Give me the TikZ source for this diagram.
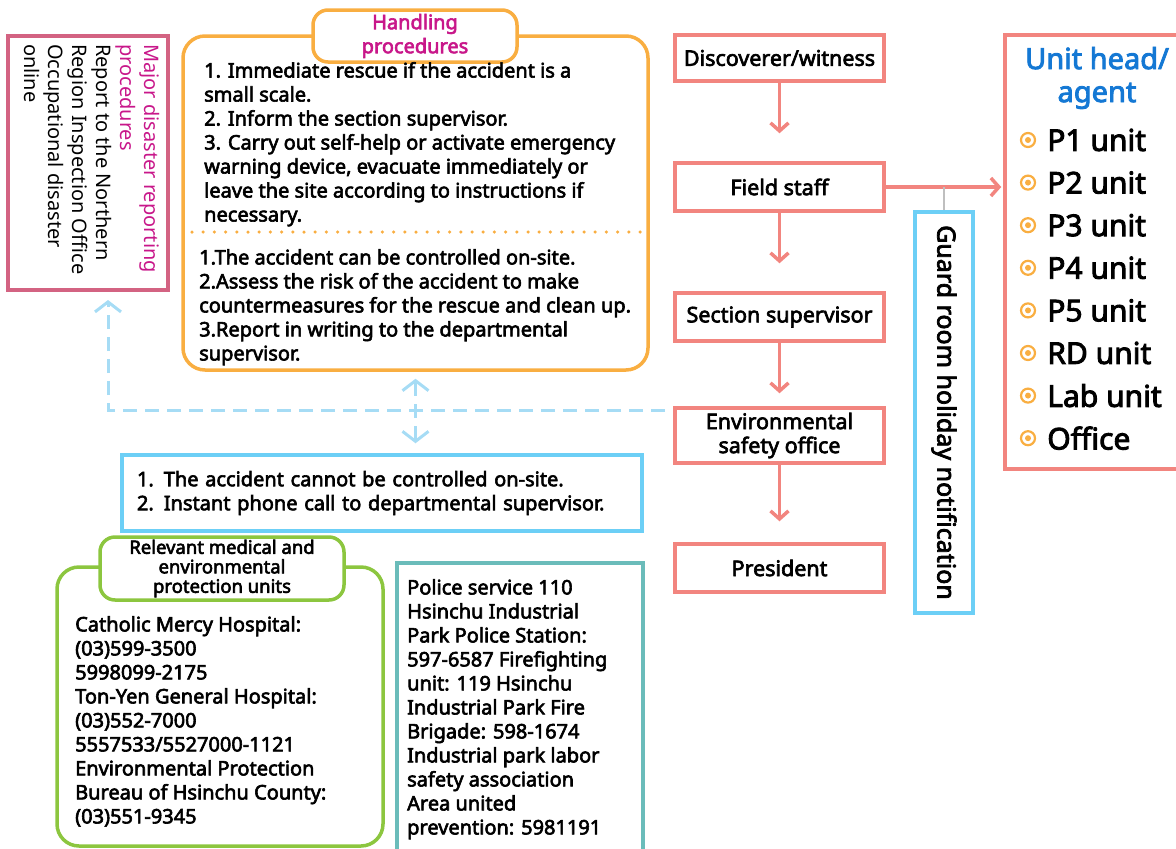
\documentclass[tikz,border=0pt]{standalone}
\usepackage{fontspec}
\setmainfont{Noto Sans}
\newfontfamily\medfont{Noto Sans}[FakeBold=3]
\usepackage{tikz}
\usetikzlibrary{arrows.meta,positioning,calc}

\definecolor{flowred}{HTML}{F2857F}
\definecolor{majpink}{HTML}{D36382}
\definecolor{majmag}{HTML}{C8178A}
\definecolor{handorange}{HTML}{F9AE41}
\definecolor{dashblue}{HTML}{A6DCF5}
\definecolor{boxblue}{HTML}{6CCFF6}
\definecolor{medgreen}{HTML}{8CC63F}
\definecolor{polteal}{HTML}{6BBCBA}
\definecolor{unitblue}{HTML}{1478D4}

\begin{document}
\begin{tikzpicture}[
  x=1pt, y=-1pt,
  every node/.style={inner sep=0pt, font=\medfont\fontsize{20}{24}\selectfont},
  flowbox/.style={draw=flowred, line width=3.5pt, minimum width=209pt, minimum height=48pt, align=center,
    font=\medfont\fontsize{21.5}{24}\selectfont},
  flowarr/.style={draw=flowred, line width=3.5pt, -{Straight Barb[length=8pt,width=18pt]}},
  dasharr/.style={draw=dashblue, line width=3pt, dash pattern=on 14pt off 8pt, -{Straight Barb[length=10pt,width=26pt]}},
  tab/.style={draw, fill=white, line width=3.5pt, rounded corners=15pt, align=center},
  bullet/.style={circle, draw=handorange, line width=2.2pt, minimum size=14pt,
    path picture={\fill[handorange] (path picture bounding box.center) circle (3pt);}},
  unittext/.style={font=\medfont\fontsize{30}{33}\selectfont}
]
\useasboundingbox (0,0) rectangle (1176,849);

% major disaster reporting
\node[draw=majpink, line width=3.5pt, minimum width=160pt, minimum height=254pt] (majbox) at (88,163) {};
\node[rotate=-90, anchor=north west, align=left, font=\fontsize{20}{24}\selectfont] (majtext) at (160,44)
  {\textcolor{majmag}{Major disaster reporting}\\\textcolor{majmag}{procedures}\\Report to the Northern\\Region Inspection Office\\Occupational disaster\\online};

% handling procedures
\node[draw=handorange, line width=3.5pt, rounded corners=22pt, minimum width=465pt, minimum height=334pt] (handbox) at (415.5,203) {};
\node[tab, draw=handorange, minimum width=204pt, minimum height=52pt, text=majmag] (handtab) at (415,36) {Handling\\procedures};
\node[anchor=north west, align=left] (handtop) at (204,62)
  {1. Immediate rescue if the accident is a\\small scale.\\2. Inform the section supervisor.\\3. Carry out self-help or activate emergency\\warning device, evacuate immediately or\\leave the site according to instructions if\\necessary.};
\coordinate (sepL) at (192,232);
\coordinate (sepR) at (640,232);
\draw[handorange, line width=3.5pt, line cap=round, dash pattern=on 0pt off 11.2pt] (sepL) -- (sepR);
\node[anchor=north west, align=left] (handbot) at (199,249)
  {1.The accident can be controlled on-site.\\2.Assess the risk of the accident to make\\countermeasures for the rescue and clean up.\\3.Report in writing to the departmental\\supervisor.};

% cannot be controlled
\node[draw=boxblue, line width=3.5pt, minimum width=520pt, minimum height=76pt, text width=490pt, inner xsep=15pt, align=left] (nobox) at (382,493)
  {1. The accident cannot be controlled on-site.\\2. Instant phone call to departmental supervisor.};

% dashed connectors
\coordinate (mjtip) at (108,300);
\coordinate (splitR) at (665,410);
\draw[dasharr] (splitR) -| (mjtip);
\draw[dasharr, {Straight Barb[length=10pt,width=26pt]}-{Straight Barb[length=10pt,width=26pt]}, shorten <=7pt, shorten >=10pt]
  (handbox.south) -- (handbox.south |- nobox.north);

% medical units
\node[draw=medgreen, line width=3.5pt, rounded corners=22pt, minimum width=326pt, minimum height=279pt] (medbox) at (220,706.5) {};
\node[tab, draw=medgreen, minimum width=244pt, minimum height=63pt, font=\medfont\fontsize{18.5}{19.5}\selectfont] (medtab) at (222,568.5)
  {Relevant medical and\\environmental\\protection units};
\node[anchor=north west, align=left] (medtext) at (75,616)
  {Catholic Mercy Hospital:\\(03)599-3500\\5998099-2175\\Ton-Yen General Hospital:\\(03)552-7000\\5557533/5527000-1121\\Environmental Protection\\Bureau of Hsinchu County:\\(03)551-9345};

% police and fire
\node[draw=polteal, line width=3.5pt, minimum width=246pt, minimum height=300pt] (polbox) at (520,713) {};
\node[anchor=north west, align=left] (poltext) at (407,579)
  {Police service 110\\Hsinchu Industrial\\Park Police Station:\\597-6587 Firefighting\\unit: 119 Hsinchu\\Industrial Park Fire\\Brigade: 598-1674\\Industrial park labor\\safety association\\Area united\\prevention: 5981191};

% notification flow
\node[flowbox, minimum height=46pt] (disc) at (779.5,58) {Discoverer/witness};
\node[flowbox] (field) at (779.5,187) {Field staff};
\node[flowbox] (sec) at (779.5,317) {Section supervisor};
\node[flowbox, minimum height=55pt] (env) at (779.5,435.5) {Environmental\\safety office};
\node[flowbox] (pres) at (779.5,568) {President};

\draw[flowarr, shorten >=28pt] (disc) -- (field);
\draw[flowarr, shorten >=28pt] (field) -- (sec);
\draw[flowarr, shorten >=13pt] (sec) -- (env);
\draw[flowarr, shorten >=21pt] (env) -- (pres);

% guard room
\node[draw=boxblue, line width=3.5pt, minimum width=58pt, minimum height=401pt] (guard) at (944,412.5) {};
\node[rotate=-90, font=\medfont\fontsize{25}{28}\selectfont] (guardtext) at (guard) {Guard room holiday notification};

% unit heads
\node[draw=flowred, line width=3.5pt, minimum width=190pt, minimum height=434pt] (units) at (1100,252) {};
\draw[flowarr, shorten >=2pt] (field.east) -- (field.east -| units.west);
\draw[black!25, line width=2pt] (field.east -| guard.north) -- (guard.north);
\node[align=center, text=unitblue, font=\medfont\fontsize{29}{33}\selectfont] (unithead) at (1097,78) {Unit head/\\agent};
\foreach \u [count=\i from 0] in {P1 unit,P2 unit,P3 unit,P4 unit,P5 unit,RD unit,Lab unit,Office} {
  \node[bullet] (b\i) at (1028,140+42.6*\i) {};
  \node[unittext, right=11pt of b\i] (u\i) {\u};
}
\end{tikzpicture}
\end{document}
